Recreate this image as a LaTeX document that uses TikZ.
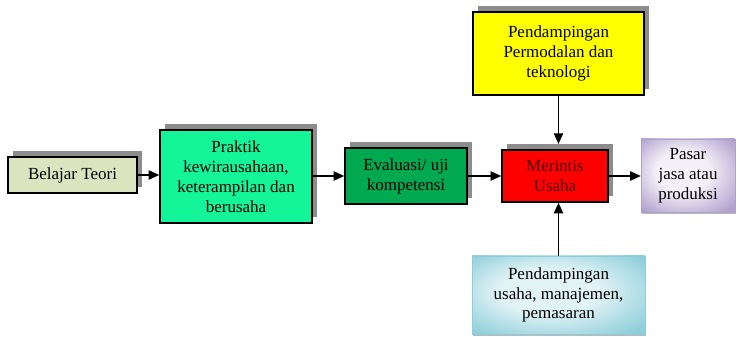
\documentclass[tikz,border=0pt]{standalone}
\usepackage{fontspec}
\setmainfont{Liberation Serif}
\usepackage{tikz}
\usetikzlibrary{positioning, shadows, arrows.meta}
\definecolor{teori}{HTML}{DAE5BF}
\definecolor{praktik}{HTML}{14F59A}
\definecolor{evaluasi}{HTML}{00A94F}
\definecolor{modal}{HTML}{FFFF00}
\definecolor{usahalight}{HTML}{E2F3F6}
\definecolor{usahadark}{HTML}{8ECEDA}
\definecolor{pasarlight}{HTML}{F4F0F8}
\definecolor{pasardark}{HTML}{B1A0CD}
\definecolor{rintis}{HTML}{4A0000}
\pgfdeclareradialshading{tepibiru}{\pgfpoint{-4bp}{4bp}}{color(0bp)=(usahalight); color(14bp)=(usahalight); color(34bp)=(usahadark); color(50bp)=(usahadark)}
\pgfdeclareradialshading{tepiungu}{\pgfpoint{-4bp}{4bp}}{color(0bp)=(pasarlight); color(14bp)=(pasarlight); color(34bp)=(pasardark); color(50bp)=(pasardark)}
\tikzset{blok/.style={draw=black, line width=1.4pt, align=center, inner sep=2pt,
        font=\fontsize{14.5}{17}\selectfont,
        drop shadow={shadow xshift=0.16cm, shadow yshift=0.17cm, fill=gray!90, opacity=1}},
    lunak/.style={align=center, inner sep=2pt, font=\fontsize{14.5}{17}\selectfont,
        drop shadow={shadow xshift=0.02cm, shadow yshift=-0.05cm, fill=gray!55, opacity=1}},
    panah/.style={line width=1pt, -{Triangle[length=9pt, width=8pt]}}}

\begin{document}
\begin{tikzpicture}
                 \useasboundingbox (0,0) rectangle (22.14,10.11);

                 \node[blok, fill=teori, minimum width=3.87cm, minimum height=1.08cm] (teori) at (2.175,4.86) {Belajar Teori};
                 \node[blok, fill=praktik, minimum width=4.56cm, minimum height=2.79cm] (praktik) at (7.08,4.81) {Praktik\\kewirausahaan,\\keterampilan dan\\berusaha};
                 \node[blok, fill=evaluasi, minimum width=3.66cm, minimum height=1.68cm] (evaluasi) at (12.18,4.83) {Evaluasi/ uji\\kompetensi};
                 \node[blok, fill=red, text=rintis, minimum width=3.18cm, minimum height=1.56cm] (rintis) at (16.65,4.83) {Merintis\\Usaha};

                 \node[blok, fill=modal, minimum width=5.13cm, minimum height=2.49cm] (modal) at (16.755,8.505) {Pendampingan\\Permodalan dan\\teknologi};
                 \node[lunak, shading=tepibiru, draw=usahadark, minimum width=5.19cm, minimum height=2.34cm] (usaha) at (16.755,1.26) {Pendampingan\\usaha, manajemen,\\pemasaran};
                 \node[lunak, shading=tepiungu, draw=pasardark, minimum width=2.82cm, minimum height=2.19cm] (pasar) at (20.64,4.845) {Pasar\\jasa atau\\produksi};

                 \draw[panah] (teori) -- (teori -| praktik.west);
                 \draw[panah] (praktik.east |- evaluasi) -- (evaluasi);
                 \draw[panah] (evaluasi) -- (rintis);
                 \draw[panah] (rintis) -- (rintis -| pasar.west);

                 \draw[panah, shorten >=4.5pt] (modal.south) -- (modal.south |- rintis.north);
                 \draw[panah] (usaha.north) -- (usaha.north |- rintis.south);

           \end{tikzpicture}
\end{document}
